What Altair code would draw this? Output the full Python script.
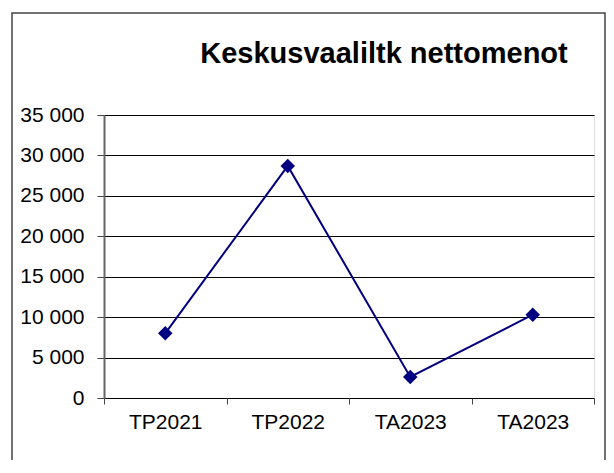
import altair as alt
import pandas as pd

categories = ["TP2021", "TP2022", "TA2023", "TA2023"]
values = [8000, 28700, 2600, 10300]
y_ticks = [0, 5000, 10000, 15000, 20000, 25000, 30000, 35000]
title_text = "Keskusvaaliltk nettomenot"

df = pd.DataFrame({"idx": list(range(len(categories))), "label": categories, "value": values})
label_expr = "[" + ",".join("'" + c + "'" for c in categories) + "][datum.value]"

FONT = "Liberation Sans"
NAVY = "#000080"

x_enc = alt.X(
    "idx:O",
    scale=alt.Scale(type="band", paddingInner=0, paddingOuter=0),
    axis=alt.Axis(
        title=None, labelAngle=0, labelExpr=label_expr, tickBand="extent",
        ticks=True, tickSize=6, tickColor="#444444", domain=False,
        labelFontSize=21, labelFont=FONT, labelColor="black", labelPadding=7, grid=False,
    ),
)
y_enc = alt.Y(
    "value:Q",
    scale=alt.Scale(domain=[0, 35000], nice=False),
    axis=alt.Axis(
        values=y_ticks, title=None,
        labelExpr="replace(format(datum.value, ','), ',', ' ')",
        tickSize=7, tickColor="#444444", domainColor="#666666", domainWidth=2,
        grid=True, gridColor="black", gridWidth=1,
        labelFontSize=21, labelFont=FONT, labelColor="black", labelPadding=13,
    ),
)

base = alt.Chart(df).encode(x=x_enc, y=y_enc)
line = base.mark_line(color=NAVY, strokeWidth=2)
pts = base.mark_point(shape="diamond", filled=True, size=210, color=NAVY, opacity=1)

frame = alt.Chart(pd.DataFrame({"a": [0]})).mark_rect(
    fillOpacity=0, stroke="#444444", strokeWidth=1.5
).encode(x=alt.value(-92), x2=alt.value(501), y=alt.value(-102), y2=alt.value(420))

title = alt.Chart(pd.DataFrame({"t": [title_text]})).mark_text(
    font=FONT, fontSize=29, fontWeight="bold", color="black",
    align="center", baseline="alphabetic",
).encode(text="t:N", x=alt.value(280), y=alt.value(-52))

chart = alt.layer(frame, line, pts, title).properties(
    width=490, height=283,
    padding={"left": 96, "top": 107, "right": 12, "bottom": 62},
    autosize="none",
).configure_view(stroke="#808080", strokeWidth=2).configure(background="white")

chart.save("out.html", embed_options={"renderer": "svg", "actions": False})
